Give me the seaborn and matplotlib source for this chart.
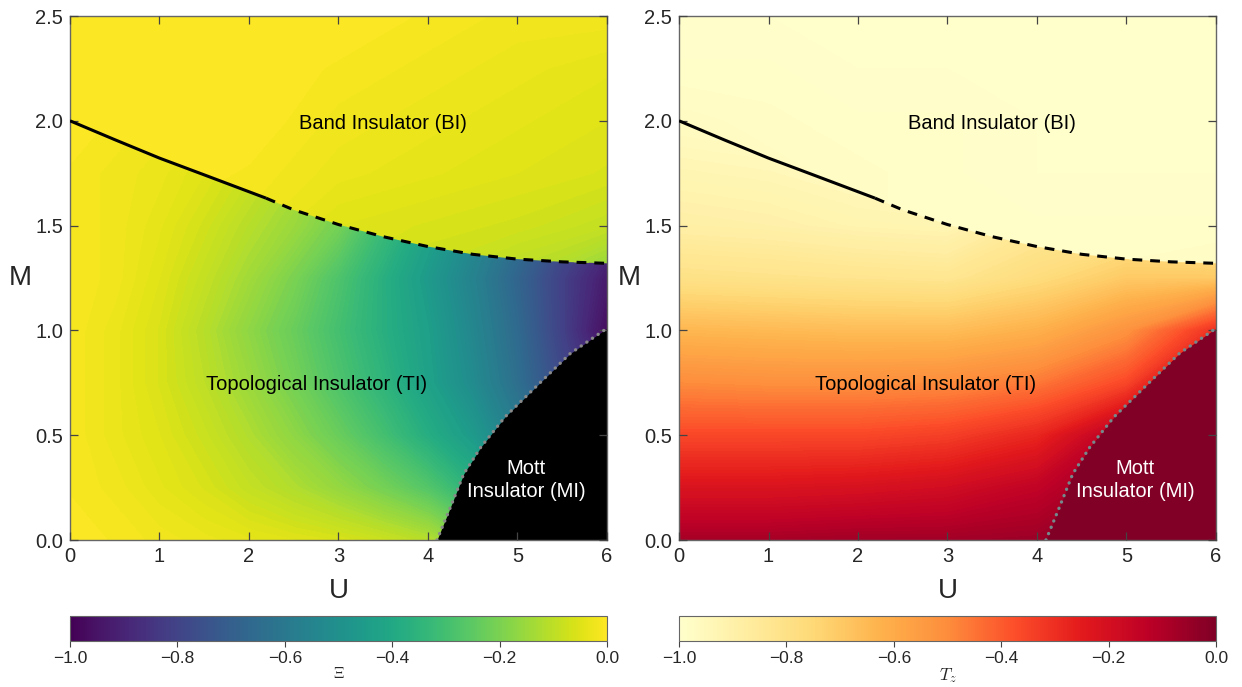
import numpy as np
import matplotlib
matplotlib.use("Agg")
import matplotlib.pyplot as plt
import seaborn as sns
from matplotlib.patches import Polygon
from matplotlib.colors import Normalize
from matplotlib.cm import ScalarMappable

sns.set_style("ticks")
plt.rcParams["font.family"] = ["Liberation Sans", "DejaVu Sans"]
plt.rcParams["mathtext.fontset"] = "cm"

# ---------------- data ----------------
# phase boundary BI / TI (solid = exact, dashed = estimated)
bi_solid_U = [0.0, 0.5, 1.0, 1.5, 2.19]
bi_solid_M = [2.0, 1.91, 1.822, 1.742, 1.631]
bi_dash_U = [2.19, 2.5, 3.0, 3.5, 4.0, 4.5, 5.0, 5.5, 6.0]
bi_dash_M = [1.631, 1.575, 1.505, 1.447, 1.40, 1.363, 1.34, 1.327, 1.32]

# Mott boundary
mott_U = [4.10, 4.25, 4.40, 4.59, 4.86, 5.28, 5.59, 6.0]
mott_M = [0.0, 0.156, 0.316, 0.443, 0.587, 0.762, 0.89, 1.01]

# Xi field inside TI region (rows: M, cols: U)
ti_U = [0.0, 0.5, 1.0, 1.5, 2.0, 2.5, 3.0, 3.5, 4.0, 4.5, 5.0, 5.5, 6.0]
ti_M = [0.0, 0.25, 0.5, 0.75, 1.0, 1.25, 1.5, 1.75, 2.0]
xi_ti = [
    [0.00, -0.01, -0.02, -0.03, -0.04, -0.05, -0.06, -0.08, -0.11, -0.20, -0.35, -0.50, -0.60],
    [-0.01, -0.02, -0.04, -0.06, -0.09, -0.12, -0.16, -0.21, -0.27, -0.36, -0.50, -0.62, -0.75],
    [-0.01, -0.03, -0.05, -0.08, -0.12, -0.17, -0.23, -0.30, -0.38, -0.46, -0.58, -0.70, -0.85],
    [-0.01, -0.03, -0.06, -0.10, -0.15, -0.21, -0.28, -0.35, -0.43, -0.52, -0.64, -0.78, -0.90],
    [-0.01, -0.03, -0.06, -0.11, -0.17, -0.23, -0.30, -0.37, -0.44, -0.54, -0.66, -0.81, -0.97],
    [-0.01, -0.02, -0.05, -0.09, -0.14, -0.20, -0.28, -0.37, -0.46, -0.56, -0.68, -0.81, -0.93],
    [-0.01, -0.02, -0.04, -0.07, -0.11, -0.15, -0.21, -0.32, -0.42, -0.52, -0.63, -0.75, -0.85],
    [-0.01, -0.02, -0.03, -0.05, -0.08, -0.12, -0.18, -0.28, -0.38, -0.48, -0.58, -0.70, -0.80],
    [0.00, -0.01, -0.02, -0.03, -0.05, -0.08, -0.14, -0.24, -0.34, -0.44, -0.54, -0.62, -0.70],
]

# Xi field inside BI region
bi_U = [0, 1, 2, 3, 4, 5, 6]
bi_M = [1.25, 1.5, 1.75, 2.0, 2.25, 2.5]
xi_bi = [
    [0.00, -0.01, -0.03, -0.06, -0.08, -0.11, -0.17],
    [0.00, -0.01, -0.02, -0.05, -0.06, -0.07, -0.09],
    [0.00, 0.00, -0.01, -0.03, -0.04, -0.05, -0.06],
    [0.00, 0.00, 0.00, -0.02, -0.03, -0.04, -0.05],
    [0.00, 0.00, 0.00, -0.01, -0.02, -0.03, -0.04],
    [0.00, 0.00, 0.00, 0.00, -0.01, -0.02, -0.02],
]

# T_z field inside TI region
tz_U = [0, 1, 2, 3, 4, 5, 6]
tz_M = [0.0, 0.25, 0.5, 0.75, 1.0, 1.25, 1.5, 1.75, 2.0]
tz_ti = [
    [-0.08, -0.08, -0.07, -0.07, -0.06, -0.03, -0.02],
    [-0.22, -0.22, -0.21, -0.19, -0.14, -0.05, -0.03],
    [-0.36, -0.36, -0.36, -0.34, -0.28, -0.10, -0.04],
    [-0.50, -0.51, -0.51, -0.50, -0.46, -0.36, -0.05],
    [-0.64, -0.65, -0.66, -0.66, -0.62, -0.52, -0.30],
    [-0.80, -0.81, -0.82, -0.83, -0.77, -0.70, -0.70],
    [-0.89, -0.90, -0.92, -0.93, -0.85, -0.82, -0.85],
    [-0.93, -0.94, -0.96, -0.96, -0.90, -0.88, -0.90],
    [-0.97, -0.98, -0.98, -0.98, -0.95, -0.93, -0.95],
]
# T_z field inside BI region
tz_bi = [
    [-0.97, -0.98, -0.98, -0.98, -0.98, -0.98, -0.97],
    [-0.96, -0.97, -0.98, -0.99, -0.99, -0.99, -0.99],
    [-0.95, -0.97, -0.98, -0.99, -1.00, -1.00, -1.00],
    [-0.97, -0.98, -0.99, -0.99, -1.00, -1.00, -1.00],
    [-0.99, -0.99, -1.00, -1.00, -1.00, -1.00, -1.00],
    [-1.00, -1.00, -1.00, -1.00, -1.00, -1.00, -1.00],
]

x_ticks = [0, 1, 2, 3, 4, 5, 6]
y_ticks = [0.0, 0.5, 1.0, 1.5, 2.0, 2.5]
cb_ticks = [-1.0, -0.8, -0.6, -0.4, -0.2, 0.0]

# ---------------- figure ----------------
W, H = 1242, 687
fig = plt.figure(figsize=(W / 100, H / 100), dpi=100)

cmap_xi = sns.color_palette("viridis", as_cmap=True)
cmap_tz = sns.color_palette("YlOrRd", as_cmap=True)
norm = Normalize(vmin=-1, vmax=0)
levels = np.linspace(-1, 0, 121)

line_U = bi_solid_U + bi_dash_U[1:]
line_M = bi_solid_M + bi_dash_M[1:]


def panel(ax_rect, cb_rect, ti_grid, ti_u, ti_m, bi_grid, bi_u, bi_m, cmap,
          mott_color, dot_color, cb_label, cb_label_size):
    ax = fig.add_axes(ax_rect)
    ax.set_axisbelow(False)
    ax.contourf(ti_u, ti_m, np.array(ti_grid), levels=levels, cmap=cmap,
                norm=norm, extend="both", antialiased=False, zorder=1)
    cs = ax.contourf(bi_u, bi_m, np.array(bi_grid), levels=levels, cmap=cmap,
                     norm=norm, extend="both", antialiased=False, zorder=1)
    poly = Polygon([(-0.1, 2.0)] + list(zip(line_U, line_M)) +
                   [(6.1, 1.32), (6.1, 2.6), (-0.1, 2.6)],
                   closed=True, transform=ax.transData)
    cs.set_clip_path(poly)

    # Mott region
    ax.fill_betweenx(mott_M, mott_U, 6.05, color=mott_color, lw=0, zorder=2)
    ax.plot(mott_U, mott_M, color=dot_color, lw=2.4,
            linestyle=(0, (0.05, 2.0)), dash_capstyle="round", zorder=3)

    # BI/TI boundary
    ax.plot(bi_solid_U, bi_solid_M, color="black", lw=2.2, zorder=3,
            solid_capstyle="butt")
    ax.plot(bi_dash_U, bi_dash_M, color="black", lw=2.2, zorder=3,
            linestyle=(0, (3.2, 2.6)))

    ax.text(3.5, 1.985, "Band Insulator (BI)", ha="center", va="center",
            fontsize=14.5, color="black", zorder=4)
    ax.text(2.75, 0.74, "Topological Insulator (TI)", ha="center",
            va="center", fontsize=14.5, color="black", zorder=4)
    ax.text(5.1, 0.285, "Mott\nInsulator (MI)", ha="center", va="center",
            fontsize=14.5, color="white", linespacing=1.25, zorder=4)

    ax.set_xlim(0, 6)
    ax.set_ylim(0, 2.5)
    ax.set_xticks(x_ticks)
    ax.set_yticks(y_ticks)
    ax.set_xticklabels([str(t) for t in x_ticks])
    ax.set_yticklabels([f"{t:.1f}" for t in y_ticks])
    ax.tick_params(direction="in", length=6, width=0.9, top=True, right=True,
                   labelsize=14.5, color="#444444", pad=5)
    for sp in ax.spines.values():
        sp.set_color("#666666")
        sp.set_linewidth(1.0)
    ax.set_xlabel("U", fontsize=20, labelpad=9)
    ax.set_ylabel("M", fontsize=20, rotation=0, labelpad=11, va="center")

    cax = fig.add_axes(cb_rect)
    sm = ScalarMappable(norm=norm, cmap=cmap)
    cb = fig.colorbar(sm, cax=cax, orientation="horizontal")
    cb.set_ticks(cb_ticks)
    cb.set_ticklabels([f"{t:.1f}".replace("-", "\u2212") for t in cb_ticks])
    cb.ax.tick_params(labelsize=12.5, length=4, width=0.8, color="#444444",
                      pad=3)
    cb.outline.set_edgecolor("#666666")
    cb.outline.set_linewidth(0.8)
    cb.set_label(cb_label, fontsize=cb_label_size, labelpad=0)
    return ax


axw = 537 / W
axh = 524 / H
axy = (H - 540) / H
cby = (H - 641) / H
cbh = 25 / H

panel([70 / W, axy, axw, axh], [70 / W, cby, axw, cbh],
      xi_ti, ti_U, ti_M, xi_bi, bi_U, bi_M, cmap_xi,
      "black", "#8a8a8a", "$\\Xi$", 11)
panel([679 / W, axy, axw, axh], [679 / W, cby, axw, cbh],
      tz_ti, tz_U, tz_M, tz_bi, bi_U, bi_M, cmap_tz,
      cmap_tz(1.0), "#74898c", "$T_z$", 12.5)

fig.savefig("out.png", dpi=100)
